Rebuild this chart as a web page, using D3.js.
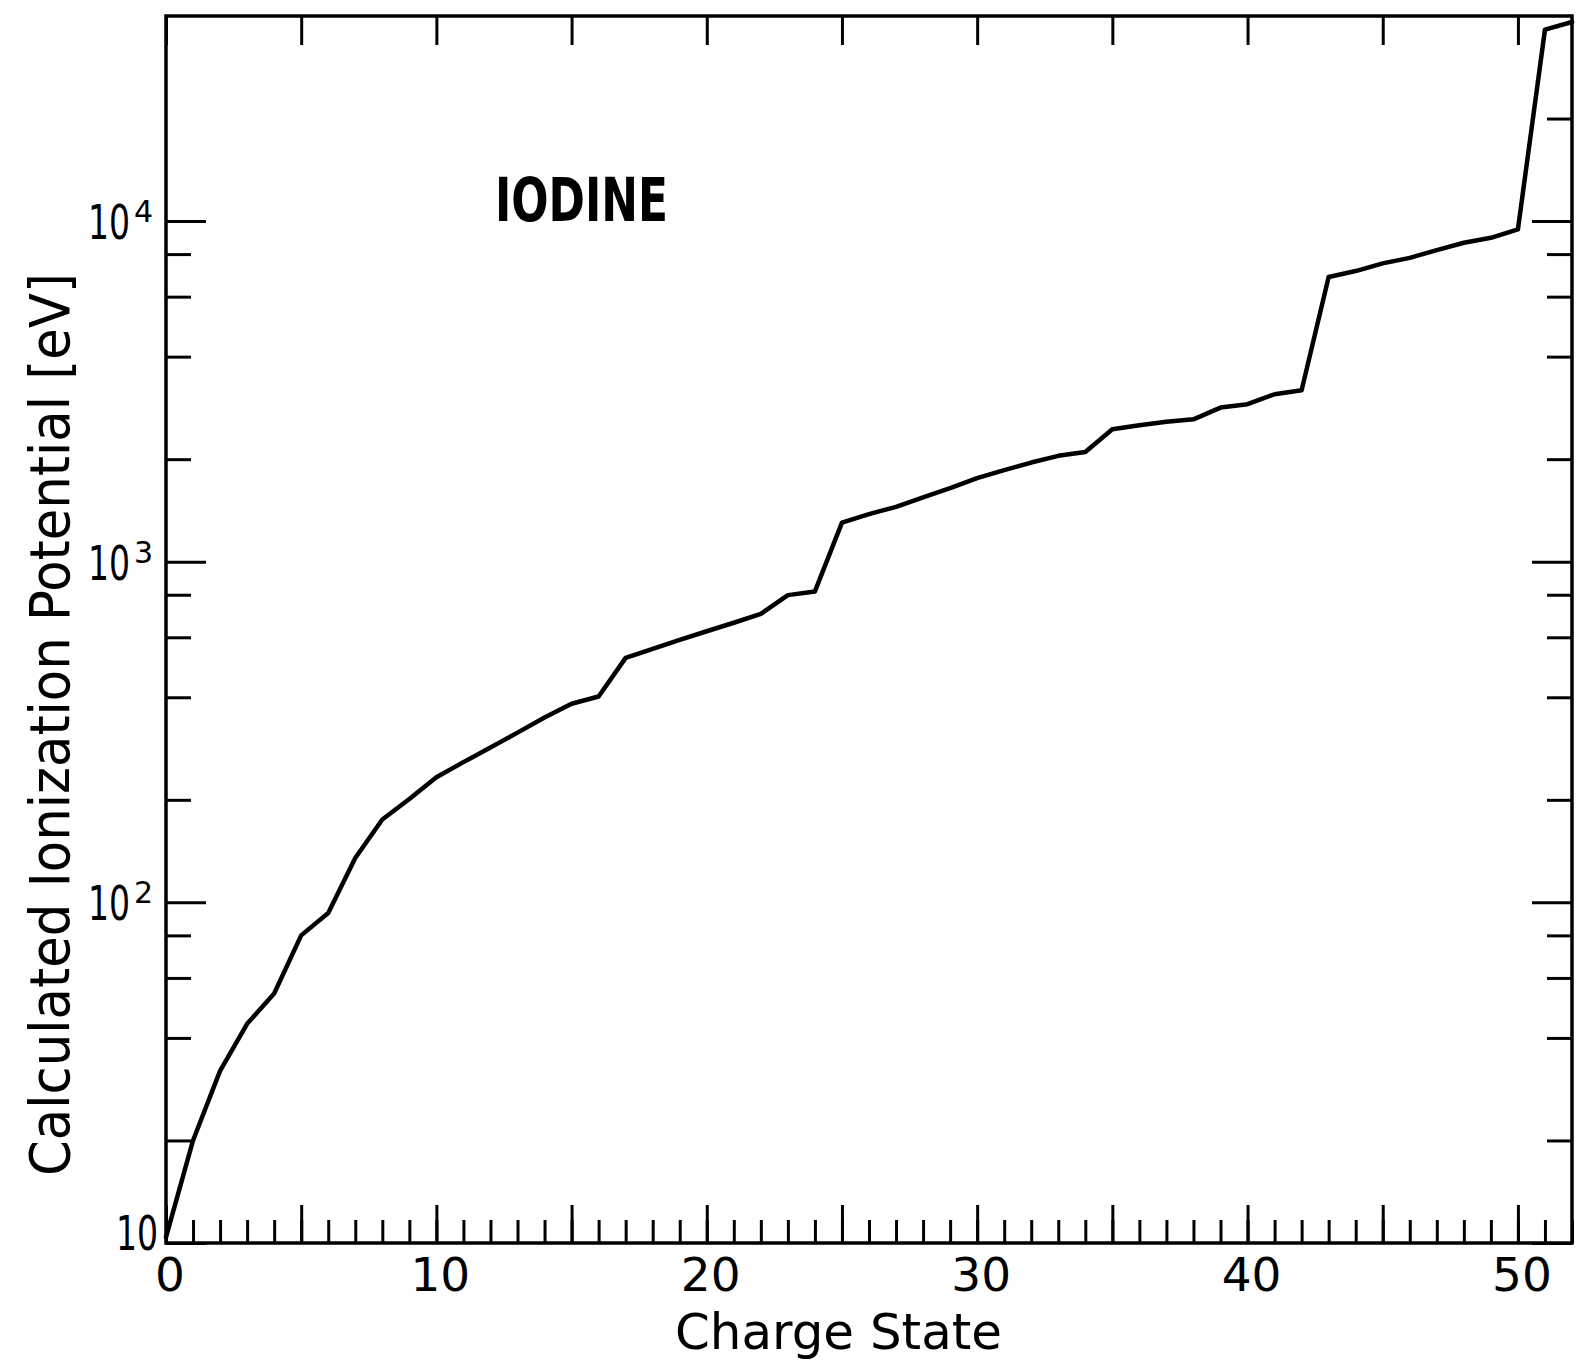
<!DOCTYPE html>
<html>
<head>
<meta charset="utf-8">
<script src="https://cdn.jsdelivr.net/npm/d3@7/dist/d3.min.js"></script>
<style>
  html, body { margin: 0; padding: 0; background: #fff; }
  svg { display: block; }
  text { font-family: "DejaVu Sans", sans-serif; fill: #000; }
</style>
</head>
<body>
<svg id="chart" width="1576" height="1362"></svg>
<script>
// Calculated ionization potentials of iodine versus charge state
const chargeState = [0, 1, 2, 3, 4, 5, 6, 7, 8, 9, 10, 11, 12, 13, 14, 15, 16, 17, 18, 19,
  20, 21, 22, 23, 24, 25, 26, 27, 28, 29, 30, 31, 32, 33, 34, 35, 36, 37, 38, 39,
  40, 41, 42, 43, 44, 45, 46, 47, 48, 49, 50, 51, 52];
const ionizationEV = [10.4, 20.0, 32, 44, 54, 80, 93, 135, 175, 201,
  233, 258, 285, 315, 349, 383, 402, 522, 555, 590,
  625, 662, 703, 798, 818, 1303, 1380, 1449, 1544, 1644,
  1760, 1857, 1955, 2046, 2100, 2449, 2516, 2574, 2618, 2835,
  2900, 3102, 3188, 6851, 7134, 7515, 7800, 8222, 8637, 8933,
  9454, 36470, 38420];

const xLabelTicks = [0, 10, 20, 30, 40, 50];
const xMajorTicks = [0, 5, 10, 15, 20, 25, 30, 35, 40, 45, 50];
const xMinorTicks = chargeState;
const yLabelTicks = [10, 100, 1000, 10000];
const yExponents = ["", "2", "3", "4"];
const yMinorLeft = [20, 40, 60, 80, 200, 400, 600, 800, 2000, 4000, 6000, 8000];
const yMinorRight = [20, 40, 60, 80, 200, 400, 600, 800, 2000, 4000, 6000, 8000, 20000];

const xTitle = "Charge State";
const yTitle = "Calculated Ionization Potential [eV]";
const elementName = "IODINE";

const plotLeft = 166, plotRight = 1572, plotTop = 16, plotBottom = 1243;

const svg = d3.select("#chart");
const x = d3.scaleLinear().domain([0, 52]).range([plotLeft, plotRight]);
const y = d3.scaleLog().domain([10, 40000]).range([plotBottom, plotTop]);

// tick marks only; labels are drawn separately
function tickGroup(axis, tx, ty) {
  const g = svg.append("g").attr("transform", `translate(${tx},${ty})`).call(axis);
  g.select(".domain").remove();
  g.selectAll(".tick text").remove();
  g.selectAll(".tick line").attr("stroke", "#000").attr("stroke-width", 3);
  return g;
}

// bottom ticks: every charge state, longer every fifth
tickGroup(d3.axisBottom(x).tickValues(xMinorTicks).tickSize(-23), 0, plotBottom);
tickGroup(d3.axisBottom(x).tickValues(xMajorTicks).tickSize(-38), 0, plotBottom);
// top ticks every fifth
tickGroup(d3.axisTop(x).tickValues(xMajorTicks).tickSize(-29), 0, plotTop);
// left and right decade ticks
tickGroup(d3.axisLeft(y).tickValues(yLabelTicks).tickSize(-40), plotLeft, 0);
tickGroup(d3.axisLeft(y).tickValues(yMinorLeft).tickSize(-25), plotLeft, 0);
tickGroup(d3.axisRight(y).tickValues(yLabelTicks).tickSize(-40), plotRight, 0);
tickGroup(d3.axisRight(y).tickValues(yMinorRight).tickSize(-25), plotRight, 0);

// frame
svg.append("rect")
  .attr("x", plotLeft).attr("y", plotTop)
  .attr("width", plotRight - plotLeft).attr("height", plotBottom - plotTop)
  .attr("fill", "none").attr("stroke", "#000").attr("stroke-width", 3.5);

// curve
const line = d3.line()
  .x((d, i) => x(chargeState[i]))
  .y(d => y(d));
svg.append("path")
  .datum(ionizationEV)
  .attr("d", line)
  .attr("fill", "none")
  .attr("stroke", "#000")
  .attr("stroke-width", 4.5)
  .attr("stroke-linejoin", "round")
  .attr("stroke-linecap", "round");

// x tick labels
svg.append("g").selectAll("text")
  .data(xLabelTicks)
  .join("text")
  .attr("x", d => x(d) + 4)
  .attr("y", plotBottom + 48)
  .attr("text-anchor", "middle")
  .attr("font-size", 47)
  .text(d => d);

// y tick labels: narrow mantissa "10" followed by a raised exponent
const yLab = svg.append("g").selectAll("g")
  .data(yLabelTicks)
  .join("g")
  .attr("transform", (d, i) => yExponents[i]
    ? `translate(${plotLeft - 78},${y(d) + 18})`
    : `translate(${plotLeft - 50},${y(d) + 7})`);
yLab.append("text")
  .attr("transform", "scale(0.69,1)")
  .attr("font-size", 48)
  .text("10");
yLab.filter((d, i) => yExponents[i] !== "")
  .append("text")
  .attr("x", 46)
  .attr("y", -17)
  .attr("font-size", 30)
  .text(d => yExponents[yLabelTicks.indexOf(d)]);

// axis titles
svg.append("text")
  .attr("x", 838.5).attr("y", 1349)
  .attr("text-anchor", "middle")
  .attr("font-size", 50)
  .attr("textLength", 327)
  .attr("lengthAdjust", "spacingAndGlyphs")
  .text(xTitle);

svg.append("text")
  .attr("transform", "translate(69,724.5) rotate(-90)")
  .attr("text-anchor", "middle")
  .attr("font-size", 56)
  .attr("textLength", 903)
  .attr("lengthAdjust", "spacingAndGlyphs")
  .text(yTitle);

// element name
svg.append("text")
  .attr("x", 581.5).attr("y", 221)
  .attr("text-anchor", "middle")
  .attr("font-size", 60)
  .attr("font-weight", "bold")
  .attr("textLength", 173)
  .attr("lengthAdjust", "spacingAndGlyphs")
  .text(elementName);
</script>
</body>
</html>
